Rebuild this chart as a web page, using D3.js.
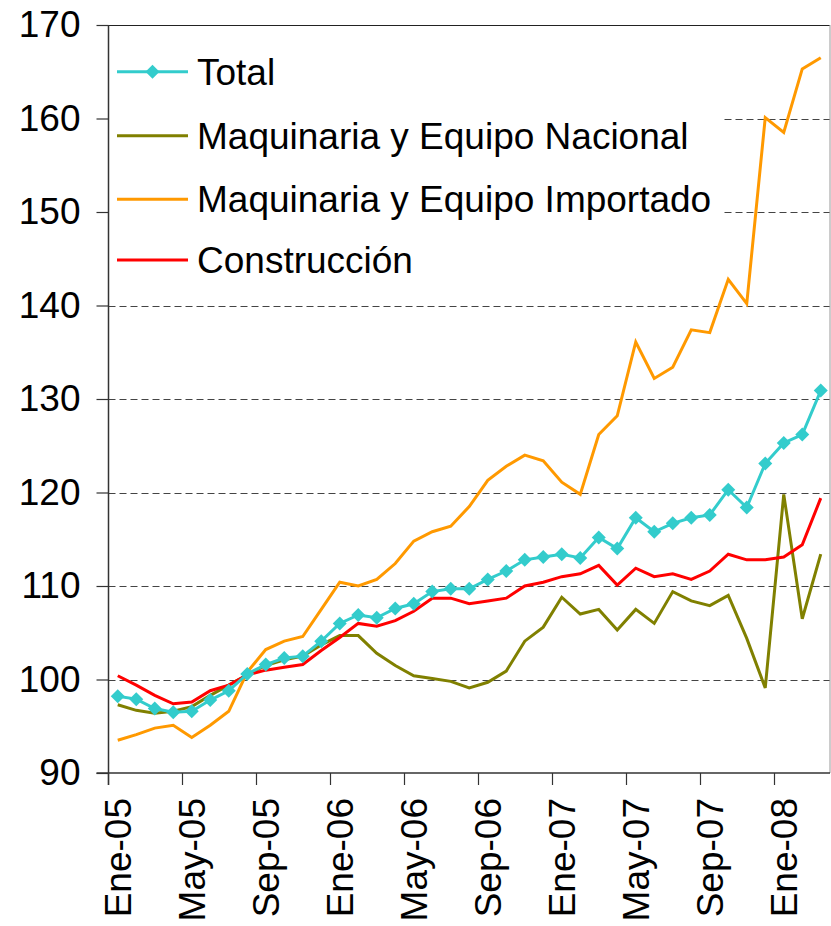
<!DOCTYPE html>
<html>
<head>
<meta charset="utf-8">
<script src="https://cdn.jsdelivr.net/npm/d3@7/dist/d3.min.js"></script>
<style>
  html, body { margin: 0; padding: 0; background: #fff; }
  svg { display: block; font-family: "Liberation Sans", Arial, sans-serif; }
</style>
</head>
<body>
<svg id="chart" width="831" height="926"></svg>
<script>
// ---- Data ----
const categories = [
  "Ene-05","Feb-05","Mar-05","Abr-05","May-05","Jun-05","Jul-05","Ago-05","Sep-05","Oct-05","Nov-05","Dic-05",
  "Ene-06","Feb-06","Mar-06","Abr-06","May-06","Jun-06","Jul-06","Ago-06","Sep-06","Oct-06","Nov-06","Dic-06",
  "Ene-07","Feb-07","Mar-07","Abr-07","May-07","Jun-07","Jul-07","Ago-07","Sep-07","Oct-07","Nov-07","Dic-07",
  "Ene-08","Feb-08","Mar-08"
];
const xTickLabels = ["Ene-05","May-05","Sep-05","Ene-06","May-06","Sep-06","Ene-07","May-07","Sep-07","Ene-08"];
const yTicks = [90, 100, 110, 120, 130, 140, 150, 160, 170];

const total = [98.2, 97.9, 96.9, 96.5, 96.6, 97.8, 98.8, 100.6, 101.6, 102.3, 102.5, 104.1,
  106.0, 106.9, 106.6, 107.6, 108.1, 109.4, 109.7, 109.7, 110.7, 111.6, 112.8, 113.1,
  113.4, 113.0, 115.2, 114.0, 117.3, 115.8, 116.7, 117.3, 117.6, 120.3, 118.4, 123.1,
  125.3, 126.2, 130.9];
const nacional = [97.3, 96.7, 96.4, 96.6, 97.1, 98.3, 99.4, 100.5, 101.5, 102.1, 102.5, 103.7,
  104.7, 104.7, 102.8, 101.5, 100.4, 100.1, 99.8, 99.1, 99.7, 100.9, 104.1, 105.6,
  108.8, 107.0, 107.5, 105.3, 107.5, 106.0, 109.4, 108.4, 107.9, 109.0, 104.4, 99.1,
  119.8, 106.5, 113.4];
const importado = [93.5, 94.1, 94.8, 95.1, 93.8, 95.1, 96.6, 100.8, 103.2, 104.1, 104.6, 107.5,
  110.4, 110.0, 110.7, 112.4, 114.8, 115.8, 116.4, 118.5, 121.3, 122.8, 124.0, 123.4,
  121.1, 119.8, 126.2, 128.2, 136.1, 132.2, 133.4, 137.4, 137.1, 142.8, 140.2, 160.1,
  158.5, 165.3, 166.5];
const construccion = [100.4, 99.4, 98.3, 97.4, 97.6, 98.8, 99.4, 100.5, 101.0, 101.3, 101.6, 103.1,
  104.5, 106.0, 105.7, 106.3, 107.3, 108.7, 108.7, 108.1, 108.4, 108.7, 110.0, 110.4,
  111.0, 111.3, 112.2, 110.1, 111.9, 111.0, 111.3, 110.7, 111.6, 113.4, 112.8, 112.8,
  113.1, 114.4, 119.4];

const seriesNames = ["Total", "Maquinaria y Equipo Nacional", "Maquinaria y Equipo Importado", "Construcción"];
const seriesColors = ["#33CCCC", "#808000", "#FF9900", "#FF0000"];
const seriesValues = [total, nacional, importado, construccion];

// ---- Layout ----
const svg = d3.select("#chart");
const pLeft = 108.5, pRight = 830, pTop = 25, pBottom = 773;

const x = d3.scaleBand().domain(categories).range([pLeft, pRight]).padding(0);
const y = d3.scaleLinear().domain([90, 170]).range([pBottom, pTop]);
const cx = d => x(d) + x.bandwidth() / 2;

// Gridlines (dashed)
svg.append("g")
  .selectAll("line")
  .data(yTicks.filter(v => v > 90 && v < 170))
  .join("line")
  .attr("x1", pLeft).attr("x2", pRight)
  .attr("y1", d => Math.round(y(d)) + 0.5).attr("y2", d => Math.round(y(d)) + 0.5)
  .attr("stroke", "#444").attr("stroke-width", 1)
  .attr("stroke-dasharray", "7,4");

// Plot border: top (dark) and right (gray)
svg.append("line").attr("x1", pLeft).attr("x2", pRight).attr("y1", pTop + 0.5).attr("y2", pTop + 0.5)
  .attr("stroke", "#222").attr("stroke-width", 1.2);
svg.append("line").attr("x1", pRight).attr("x2", pRight).attr("y1", pTop).attr("y2", pBottom)
  .attr("stroke", "#aaa").attr("stroke-width", 1.2);

// Legend background
svg.append("rect").attr("x", pLeft).attr("y", pTop + 1).attr("width", 723 - pLeft).attr("height", 298 - pTop - 1)
  .attr("fill", "#fff");

// Y axis
const yAxis = d3.axisLeft(y).tickValues(yTicks).tickSize(12).tickPadding(16).tickSizeOuter(0);
const gy = svg.append("g").attr("transform", `translate(${pLeft},0)`).call(yAxis);
gy.select(".domain").attr("stroke", "#333").attr("stroke-width", 1.5).attr("d", `M0,${pTop}V${pBottom + 12}`);
gy.selectAll(".tick line").attr("stroke", "#333").attr("stroke-width", 1.2);
gy.selectAll(".tick text").attr("font-size", 37).attr("fill", "#000")
  .attr("font-family", "'Liberation Sans', Arial, sans-serif");

// X axis (labels centred on months, tick marks on month boundaries every 4 months)
const xAxis = d3.axisBottom(x).tickValues(xTickLabels).tickSize(0).tickSizeOuter(0);
const gx = svg.append("g").attr("transform", `translate(0,${pBottom})`).call(xAxis);
gx.select(".domain").remove();
gx.selectAll(".tick text")
  .attr("font-size", 37).attr("fill", "#000")
  .attr("font-family", "'Liberation Sans', Arial, sans-serif")
  .attr("text-anchor", "end")
  .attr("transform", "rotate(-90)")
  .attr("x", -25).attr("y", 0).attr("dy", "0.35em");
svg.append("line").attr("x1", pLeft - 12).attr("x2", pRight).attr("y1", pBottom).attr("y2", pBottom)
  .attr("stroke", "#333").attr("stroke-width", 1.5);
svg.append("g").selectAll("line").data(xTickLabels).join("line")
  .attr("x1", d => x(d)).attr("x2", d => x(d))
  .attr("y1", pBottom).attr("y2", pBottom + 12)
  .attr("stroke", "#333").attr("stroke-width", 1.2);

// Series lines
const line = d3.line().x((d, i) => cx(categories[i])).y(d => y(d));
const drawOrder = [1, 2, 3, 0];
drawOrder.forEach(si => {
  svg.append("path").datum(seriesValues[si])
    .attr("d", line)
    .attr("fill", "none")
    .attr("stroke", seriesColors[si])
    .attr("stroke-width", 3)
    .attr("stroke-linejoin", "miter");
});
// Total markers (diamonds)
const diamond = (px, py, r) => `M${px},${py - r}L${px + r},${py}L${px},${py + r}L${px - r},${py}Z`;
svg.append("g").selectAll("path").data(total).join("path")
  .attr("d", (d, i) => diamond(cx(categories[i]), y(d), 7))
  .attr("fill", seriesColors[0]);

// Legend
const legendRows = [71.7, 135.7, 199.3, 260];
const lg = svg.append("g");
seriesNames.forEach((name, i) => {
  const ry = legendRows[i];
  lg.append("line").attr("x1", 117).attr("x2", 188).attr("y1", ry).attr("y2", ry)
    .attr("stroke", seriesColors[i]).attr("stroke-width", 3);
  if (i === 0) {
    lg.append("path").attr("d", diamond(152.5, ry, 7)).attr("fill", seriesColors[0]);
  }
  lg.append("text").attr("x", 197).attr("y", ry).attr("dy", "0.35em")
    .attr("font-size", 37).attr("fill", "#000").text(name);
});
</script>
</body>
</html>
